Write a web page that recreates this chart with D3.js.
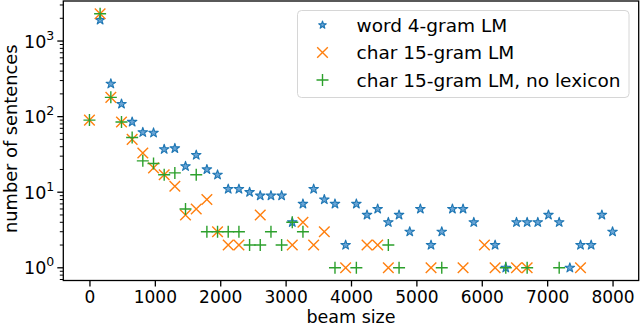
<!DOCTYPE html>
<html>
<head>
<meta charset="utf-8">
<script src="https://cdn.jsdelivr.net/npm/d3@7"></script>
<style>
  body { margin: 0; background: #fff; }
  svg { display: block; font-family: "DejaVu Sans", sans-serif; }
</style>
</head>
<body>
<div id="chart"></div>
<script>
// beam size bins
const beamSizes = [
  0, 163, 327, 490, 653, 816, 980, 1143, 1306, 1469,
  1633, 1796, 1959, 2122, 2286, 2449, 2612, 2776, 2939, 3102,
  3265, 3429, 3592, 3755, 3918, 4082, 4245, 4408, 4571, 4735,
  4898, 5061, 5224, 5388, 5551, 5714, 5878, 6041, 6204, 6367,
  6531, 6694, 6857, 7020, 7184, 7347, 7510, 7673, 7837, 8000
];

// number of sentences per bin (null = none)
const wordLM = [
  null, 1900, 272, 147, 85, 62, 61, 37, 38, 22,
  31, 20, 17, 11, 11, 10, 9, 9, 9, 4,
  7, 11, 8, 7, 2, 7, 5, 6, 4, 5,
  3, 6, 2, 3, 6, 6, 4, null, 2, 1,
  4, 4, 4, 5, 4, 1, 2, 2, 5, 3
];
const charLM = [
  90, 2300, 180, 85, 50, 33, 21, 17, 12, 5,
  6, 8, 3, 2, 2, null, 5, null, null, 2,
  4, 2, 3, null, 1, null, 2, 2, 1, null,
  null, null, 1, null, null, 1, null, 2, 1, null,
  1, 1, null, null, null, null, 1, null, null, null
];
const charNoLex = [
  90, 2300, 180, 85, 53, 26, 24, 17, 18, 6,
  17, 3, 3, 3, 3, 2, 2, 3, 2, 4,
  3, null, null, 1, null, 1, null, null, 2, 1,
  null, null, null, 1, null, null, null, null, null, 1,
  null, 1, null, null, 1, null, null, null, null, null
];

const seriesNames = ['word 4-gram LM', 'char 15-gram LM', 'char 15-gram LM, no lexicon'];
const seriesColors = ['#1f77b4', '#ff7f0e', '#2ca02c'];
const xTicks = [0, 1000, 2000, 3000, 4000, 5000, 6000, 7000, 8000];
const yTicks = [1, 10, 100, 1000];

const width = 640, height = 326;
const margin = {top: 1, right: 1.3, bottom: 45.5, left: 63.3};

const svg = d3.select('#chart').append('svg')
  .attr('width', width)
  .attr('height', height);

const allSeries = [wordLM, charLM, charNoLex].map((vals, k) => ({
  name: seriesNames[k],
  color: seriesColors[k],
  points: vals.map((v, i) => ({x: beamSizes[i], y: v})).filter(d => d.y != null)
}));

// matplotlib-like 5% margins
const xExt = d3.extent(beamSizes);
const xPad = (xExt[1] - xExt[0]) * 0.05;
const allY = allSeries.flatMap(s => s.points.map(d => d.y));
const ly = d3.extent(allY).map(Math.log10);
const lyPad = (ly[1] - ly[0]) * 0.05;

const x = d3.scaleLinear()
  .domain([xExt[0] - xPad, xExt[1] + xPad])
  .range([margin.left, width - margin.right]);
const y = d3.scaleLog()
  .domain([Math.pow(10, ly[0] - lyPad), Math.pow(10, ly[1] + lyPad)])
  .range([height - margin.bottom, margin.top]);

const fontSize = 17;

// x axis
const xAxis = svg.append('g')
  .attr('transform', `translate(0,${height - margin.bottom})`)
  .call(d3.axisBottom(x).tickValues(xTicks).tickFormat(d3.format('d')).tickSize(6).tickPadding(4));
xAxis.select('.domain').remove();
xAxis.selectAll('line').attr('stroke', '#000').attr('stroke-width', 1.3);
xAxis.selectAll('text')
  .attr('font-size', fontSize)
  .attr('font-family', '"DejaVu Sans", sans-serif')
  .attr('fill', '#000');

// y axis, major ticks
const [yMin, yMax] = y.domain();
const minorTicks = [];
for (let e = Math.floor(Math.log10(yMin)); e <= Math.ceil(Math.log10(yMax)); e++) {
  for (let m = 2; m <= 9; m++) {
    const v = m * Math.pow(10, e);
    if (v >= yMin && v <= yMax) minorTicks.push(v);
  }
}

const yAxis = svg.append('g')
  .attr('transform', `translate(${margin.left},0)`);

yAxis.selectAll('line.minor')
  .data(minorTicks)
  .join('line')
    .attr('class', 'minor')
    .attr('x1', -3.5).attr('x2', 0)
    .attr('y1', d => y(d)).attr('y2', d => y(d))
    .attr('stroke', '#000')
    .attr('stroke-width', 1);

yAxis.selectAll('line.major')
  .data(yTicks)
  .join('line')
    .attr('class', 'major')
    .attr('x1', -6).attr('x2', 0)
    .attr('y1', d => y(d)).attr('y2', d => y(d))
    .attr('stroke', '#000')
    .attr('stroke-width', 1.3);

const yLabels = yAxis.selectAll('text.tick')
  .data(yTicks)
  .join('text')
    .attr('class', 'tick')
    .attr('x', -9)
    .attr('y', d => y(d) + 6.5)
    .attr('text-anchor', 'end')
    .attr('font-size', 17.5);
yLabels.append('tspan').text('10');
yLabels.append('tspan')
  .attr('dy', -8)
  .attr('font-size', 12.5)
  .text(d => Math.round(Math.log10(d)));

// frame
svg.append('rect')
  .attr('x', margin.left)
  .attr('y', margin.top)
  .attr('width', width - margin.left - margin.right)
  .attr('height', height - margin.top - margin.bottom)
  .attr('fill', 'none')
  .attr('stroke', '#000')
  .attr('stroke-width', 1.3);

// axis titles
svg.append('text')
  .attr('x', (margin.left + width - margin.right) / 2)
  .attr('y', height - 3)
  .attr('text-anchor', 'middle')
  .attr('font-size', 17.5)
  .text('beam size');

svg.append('text')
  .attr('transform', `translate(17,${(margin.top + height - margin.bottom) / 2 - 2}) rotate(-90)`)
  .attr('text-anchor', 'middle')
  .attr('font-size', 17.8)
  .text('number of sentences');

// markers
const starPath = d3.symbol().type(d3.symbolStar).size(28)();
const crossPath = r => `M${-r},${-r}L${r},${r}M${-r},${r}L${r},${-r}`;
const plusPath = r => `M${-r},0H${r}M0,${-r}V${r}`;

const markerOf = k => k === 0 ? starPath : k === 1 ? crossPath(5.3) : plusPath(6);

const styleMarker = (sel, k, color) => {
  if (k === 0) {
    sel.attr('fill', '#6aa5d6').attr('stroke', color).attr('stroke-width', 1.1)
      .attr('stroke-linejoin', 'round');
  } else {
    sel.attr('fill', 'none').attr('stroke', color).attr('stroke-width', 1.4);
  }
};

allSeries.forEach((s, k) => {
  const g = svg.append('g').attr('class', 'series');
  g.selectAll('path')
    .data(s.points)
    .join('path')
      .attr('d', markerOf(k))
      .attr('transform', d => `translate(${x(d.x)},${y(d.y)})`)
      .call(sel => styleMarker(sel, k, s.color));
});

// legend
const legend = svg.append('g').attr('transform', 'translate(297.5,10.5)');
legend.append('rect')
  .attr('width', 331.5)
  .attr('height', 87)
  .attr('rx', 4)
  .attr('fill', '#fff')
  .attr('fill-opacity', 0.8)
  .attr('stroke', '#d6d6d6')
  .attr('stroke-width', 1);

const items = legend.selectAll('g.item')
  .data(allSeries)
  .join('g')
    .attr('class', 'item')
    .attr('transform', (d, i) => `translate(0,${14.5 + i * 27.5})`);

items.append('path')
  .attr('transform', 'translate(25,0)')
  .attr('d', (d, i) => i === 0 ? d3.symbol().type(d3.symbolStar).size(18)() : markerOf(i))
  .each(function(d, i) { styleMarker(d3.select(this), i, d.color); });

items.append('text')
  .attr('x', 59)
  .attr('y', 6.5)
  .attr('font-size', 18.5)
  .text(d => d.name);
</script>
</body>
</html>
